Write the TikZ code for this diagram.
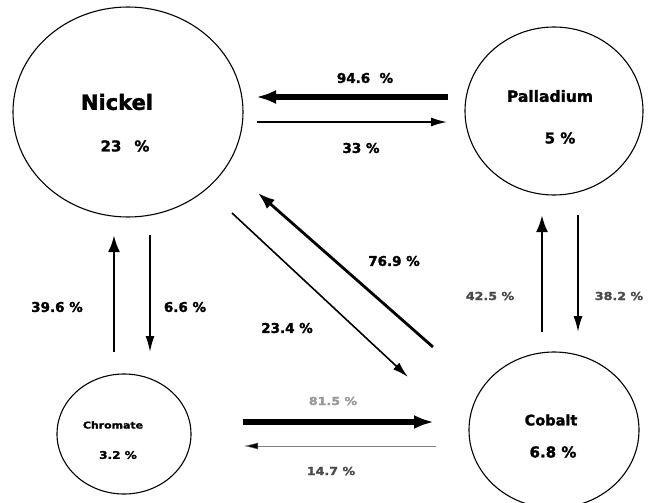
\documentclass[tikz,border=0pt]{standalone}
\usepackage{fontspec}
\setmainfont{DejaVu Sans}[BoldFeatures={FakeBold=1.6}]
\usetikzlibrary{arrows.meta,shapes.geometric}
\newcommand{\widetext}[1]{\scalebox{1.15}[1]{#1}}
\newcommand{\fs}[1]{\bfseries\fontsize{#1}{#1}\selectfont}
\begin{document}
\begin{tikzpicture}[x=1pt,y=-1pt,
  metal/.style={draw,ellipse,line width=1.1pt,inner sep=0pt},
  lbl/.style={font=\fs{13.5},inner sep=0pt},
  faint/.style={inner sep=0pt,font=\fs{11},text=black!70},
  thickflow/.style={line width=5.5pt,-{Latex[length=20pt,width=14pt]}},
  midflow/.style={line width=2.8pt,-{Latex[length=17pt,width=12pt]}},
  thinflow/.style={line width=1.6pt,-{Latex[length=16pt,width=9pt]}},
  hairflow/.style={line width=0.4pt,draw=black!50,-{Latex[length=14pt,width=7pt,fill=black]}}]
\useasboundingbox (0,0) rectangle (648,503);

% the four metals
\node[metal,minimum width=230pt,minimum height=210pt] (ni) at (128,112) {};
\node[metal,minimum width=178pt,minimum height=168pt] (pd) at (554,111) {};
\node[metal,minimum width=134pt,minimum height=120pt] (cr) at (124,434) {};
\node[metal,minimum width=170pt,minimum height=156pt] (co) at (554,430) {};

\node[inner sep=0pt,font=\fs{21}] (niname) at (117,102) {Nickel};
\node[inner sep=0pt,font=\fs{15}] (nival) at (125,146) {23\,\ \ \%};
\node[inner sep=0pt,font=\fs{15.5}] (pdname) at (550,96) {Palladium};
\node[inner sep=0pt,font=\fs{15}] (pdval) at (560,138) {5 \%};
\node[inner sep=0pt,font=\fs{9.5}] (crname) at (113,425) {\widetext{Chromate}};
\node[inner sep=0pt,font=\fs{10.5}] (crval) at (118,455) {\widetext{3.2 \%}};
\node[inner sep=0pt,font=\fs{14.5}] (coname) at (551,420) {Cobalt};
\node[inner sep=0pt,font=\fs{15}] (coval) at (553,452) {6.8 \%};

% arrow end points
\coordinate (a1s) at (448,97);  \coordinate (a1e) at (256,97);
\coordinate (a2s) at (257,122); \coordinate (a2e) at (447,122);
\coordinate (a3s) at (114,352); \coordinate (a3e) at (114,235);
\coordinate (a4s) at (150,235); \coordinate (a4e) at (150,352);
\coordinate (a5s) at (433,347); \coordinate (a5e) at (258,193);
\coordinate (a6s) at (232,213); \coordinate (a6e) at (408,377);
\coordinate (a7s) at (243,422); \coordinate (a7e) at (434,422);
\coordinate (a8s) at (436,446); \coordinate (a8e) at (244,446);
\coordinate (a9s) at (542,332); \coordinate (a9e) at (542,215);
\coordinate (a10s) at (578,215); \coordinate (a10e) at (578,332);

% flows
\draw[thickflow] (a1s) -- (a1e);
\draw[thinflow]  (a2s) -- (a2e);
\draw[midflow]   (a3s) -- (a3e);
\draw[thinflow]  (a4s) -- (a4e);
\draw[midflow]   (a5s) -- (a5e);
\draw[thinflow]  (a6s) -- (a6e);
\draw[thickflow] (a7s) -- (a7e);
\draw[hairflow]  (a8s) -- (a8e);
\draw[midflow]   (a9s) -- (a9e);
\draw[thinflow]  (a10s) -- (a10e);

% flow shares
\node[lbl] (l1) at (365,78) {94.6 \ \%};
\node[lbl] (l2) at (361,148) {33 \%};
\node[lbl] (l3) at (57,307) {39.6 \%};
\node[lbl] (l4) at (185,307) {6.6 \%};
\node[lbl] (l5) at (394,261) {76.9 \%};
\node[lbl] (l6) at (287,328) {23.4 \%};
\node[faint,text=black!40] (l7) at (333,401) {\widetext{81.5 \%}};
\node[faint] (l8) at (331,471) {\widetext{14.7 \%}};
\node[faint] (l9) at (490,296) {\widetext{42.5 \%}};
\node[faint] (l10) at (619,296) {\widetext{38.2 \%}};
\end{tikzpicture}
\end{document}
